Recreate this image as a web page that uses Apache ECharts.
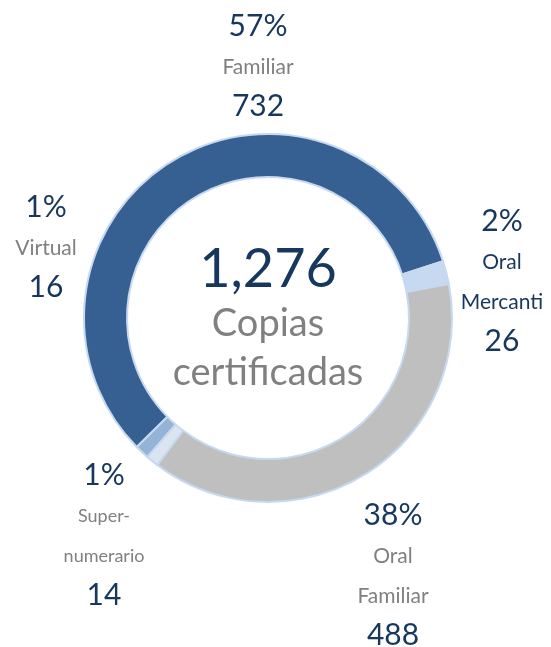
<!DOCTYPE html>
<html>
<head>
<meta charset="utf-8">
<script src="https://cdn.jsdelivr.net/npm/echarts@6/dist/echarts.min.js"></script>
<style>
  html, body { margin: 0; padding: 0; background: #fff; }
  #main { width: 551px; height: 647px; }
</style>
</head>
<body>
<div id="main"></div>
<script>
// datos de la dona
var categorias = ['Familiar', 'Oral\nMercanti', 'Oral\nFamiliar', 'Super-\nnumerario', 'Virtual'];
var valores = [732, 26, 488, 14, 16];
var porcentajes = ['57%', '2%', '38%', '1%', '1%'];
var tituloCentro = ['Copias', 'certificadas'];

var colores = ['#366092', '#c6d9f1', '#bfbfbf', '#dbe5f1', '#95b3d7'];
var estiloNombre = ['g', 'd', 'g', 's', 'g'];
// posicion de etiquetas (centro x, tope y)
var posEtiqueta = [[258, 5], [502, 200], [393, 494], [104, 454], [46, 186]];

var total = 0;
for (var i = 0; i < valores.length; i++) total += valores[i];

var datos = [];
for (var i = 0; i < valores.length; i++) {
    datos.push({
        name: categorias[i],
        value: valores[i],
        itemStyle: { color: colores[i] }
    });
}

var dom = document.getElementById('main');
var myChart = echarts.init(dom);

var option = {
    animation: false,
    series: [
        {
            type: 'pie',
            center: [268, 318],
            radius: [141, 184],
            startAngle: 224.5,
            clockwise: true,
            itemStyle: {
                borderColor: '#c6d9f1',
                borderWidth: 2
            },
            label: {
                show: true,
                position: 'outside',
                overflow: 'none',
                formatter: function (p) {
                    var st = estiloNombre[p.dataIndex];
                    var lineas = p.name.split('\n').map(function (t) {
                        return '{' + st + '|' + t + '}';
                    });
                    return '{p|' + porcentajes[p.dataIndex] + '}\n' + lineas.join('\n') + '\n{v|' + p.value + '}';
                },
                rich: {
                    p: { fontFamily: 'Lato', fontSize: 30, color: '#17375e', lineHeight: 42, align: 'center' },
                    g: { fontFamily: 'Lato', fontSize: 21, color: '#808080', lineHeight: 40, align: 'center' },
                    d: { fontFamily: 'Lato', fontSize: 21, color: '#17375e', lineHeight: 40, align: 'center' },
                    s: { fontFamily: 'Lato', fontSize: 18, color: '#808080', lineHeight: 40, align: 'center' },
                    v: { fontFamily: 'Lato', fontSize: 30, color: '#17375e', lineHeight: 38, align: 'center' }
                }
            },
            labelLine: { show: false },
            labelLayout: function (params) {
                var pos = posEtiqueta[params.dataIndex];
                return { x: pos[0], y: pos[1], align: 'center', verticalAlign: 'top', width: 200 };
            },
            data: datos
        }
    ],
    graphic: [
        {
            type: 'text',
            x: 268,
            y: 270,
            style: {
                text: total.toLocaleString('en-US'),
                font: '54px Lato',
                fill: '#17375e',
                align: 'center',
                verticalAlign: 'middle'
            }
        },
        {
            type: 'text',
            x: 268,
            y: 324,
            style: {
                text: tituloCentro[0],
                font: '38px Lato',
                fill: '#808080',
                align: 'center',
                verticalAlign: 'middle'
            }
        },
        {
            type: 'text',
            x: 268,
            y: 373,
            style: {
                text: tituloCentro[1],
                font: '38px Lato',
                fill: '#808080',
                align: 'center',
                verticalAlign: 'middle'
            }
        }
    ]
};

myChart.setOption(option);
</script>
</body>
</html>
